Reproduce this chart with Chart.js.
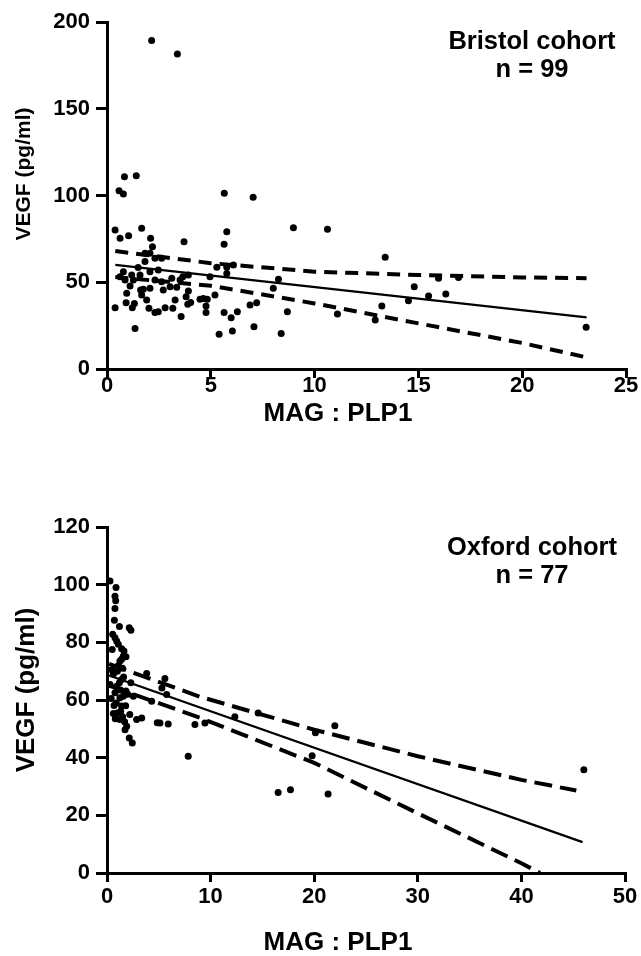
<!DOCTYPE html>
<html lang="en">
<head>
    <meta charset="UTF-8">
    <title>VEGF vs MAG : PLP1</title>
    <style>
        body {
            margin: 0;
            background: #fff;
        }
        .panel {
            width: 641px;
            height: 478px;
        }
    </style>
</head>
<body>

<div class="panel"><canvas id="bristolChart" width="641" height="478"></canvas></div>
<div class="panel"><canvas id="oxfordChart" width="641" height="478"></canvas></div>

<script src="https://cdn.jsdelivr.net/npm/chart.js"></script>
<script>
    // Bristol cohort (n = 99)
    const bristolMag = [2.15, 3.39, 0.84, 1.41, 0.58, 0.79, 5.65, 7.04, 0.39, 0.63,
        1.04, 1.67, 2.10, 2.19, 3.71, 5.77, 5.64, 8.98, 10.62, 13.40,
        0.39, 0.92, 1.22, 1.32, 1.35, 1.62, 1.67, 1.91, 2.02, 2.31,
        2.47, 2.80, 3.17, 3.28, 3.57, 3.81, 3.92, 3.89, 4.03, 4.48,
        4.77, 4.77, 4.83, 5.20, 5.40, 5.64, 5.98, 6.04, 6.28, 6.89,
        7.21, 7.08, 8.39, 8.69, 8.26, 8.01, 11.10, 12.92, 13.24, 14.52,
        14.80, 15.49, 16.32, 15.97, 16.93, 23.08, 1.83, 2.07, 2.31, 2.63,
        1.83, 0.79, 1.19, 0.87, 1.59, 2.07, 2.31, 2.63, 3.12, 3.52,
        3.92, 1.11, 1.75, 2.07, 2.71, 3.04, 3.36, 0.95, 4.64, 0.63,
        4.96, 5.29, 5.77, 6.09, 5.77, 2.47, 3.65, 1.27, 1.50];
    const bristolVegf = [189.4, 181.6, 110.8, 111.4, 102.8, 100.9, 101.3, 99.0, 80.1, 75.3,
        76.8, 81.1, 75.3, 70.5, 73.4, 79.1, 71.9, 81.4, 80.5, 64.4,
        35.3, 38.2, 35.3, 37.8, 23.4, 45.5, 42.7, 39.8, 35.0, 32.5,
        33.0, 35.3, 35.0, 39.8, 30.2, 41.7, 45.0, 37.3, 38.4, 40.2,
        36.3, 32.5, 40.2, 42.7, 20.0, 32.5, 29.6, 21.9, 33.0, 36.9,
        38.2, 24.4, 20.5, 33.0, 51.7, 46.5, 31.7, 28.2, 36.3, 39.4,
        47.4, 42.1, 43.2, 52.3, 52.8, 24.0, 66.7, 66.7, 63.8, 63.8,
        61.9, 56.1, 54.2, 51.3, 54.2, 56.1, 51.3, 50.3, 52.3, 51.3,
        54.2, 47.8, 46.0, 46.5, 45.5, 47.4, 47.1, 43.6, 40.7, 53.2,
        53.2, 58.6, 58.6, 60.0, 55.0, 57.1, 53.2, 51.3, 58.5];
    const bristolFitX = [0.4, 23.1];
    const bristolFitY = [60.0, 29.8];
    const bristolBandX = [0.4, 5, 10, 15, 20, 23.1];
    const bristolUpper = [68.0, 61.0, 56.1, 54.2, 52.8, 52.3];
    const bristolLower = [53.0, 48.0, 37.8, 26.3, 15.0, 6.7];

    // Oxford cohort (n = 77)
    const oxfordMag = [0.29, 0.87, 0.77, 0.84, 0.77, 0.71, 2.15, 2.31, 0.55, 0.77,
        0.93, 1.09, 1.41, 1.64, 1.57, 1.83, 1.41, 1.25, 0.61, 3.83,
        5.59, 0.29, 0.93, 1.41, 0.77, 1.25, 1.57, 1.83, 2.54, 4.31,
        5.76, 0.68, 1.41, 0.61, 1.32, 1.51, 1.25, 2.86, 3.35, 4.85,
        5.91, 5.11, 8.49, 9.45, 12.34, 14.59, 1.74, 1.90, 2.15, 2.44,
        7.84, 21.99, 20.12, 19.80, 16.52, 17.71, 21.34, 46.03, 0.45, 1.00,
        1.60, 1.20, 0.90, 1.80, 2.00, 1.00, 5.30, 0.50, 1.10, 1.30,
        2.20, 0.80, 1.70, 1.50, 2.30, 0.40, 1.20];
    const oxfordVegf = [101.3, 99.0, 96.0, 94.4, 91.7, 87.7, 85.1, 84.2, 82.8, 81.6,
        80.5, 79.3, 77.8, 77.0, 75.2, 75.0, 74.1, 73.5, 68.9, 69.2,
        67.5, 65.4, 64.8, 67.1, 62.5, 60.8, 61.3, 63.1, 61.3, 59.6,
        61.9, 58.1, 57.9, 55.3, 56.1, 54.2, 53.2, 53.2, 53.8, 52.1,
        51.7, 52.0, 51.5, 52.0, 54.2, 55.5, 49.7, 50.9, 46.8, 45.1,
        40.5, 51.1, 48.6, 40.7, 27.9, 28.9, 27.4, 35.8, 70.5, 70.0,
        68.0, 66.0, 59.0, 58.0, 62.0, 55.5, 64.2, 77.5, 72.0, 63.5,
        55.0, 53.5, 52.5, 71.0, 66.0, 60.5, 85.5];
    const oxfordFitX = [0.2, 45.9];
    const oxfordFitY = [68.5, 10.7];
    const oxfordUpperX = [0.2, 9, 20, 30, 40, 45.3];
    const oxfordUpper = [72.5, 61.1, 49.7, 40.5, 32.3, 28.6];
    const oxfordLowerX = [0.2, 9, 20, 30, 40, 41.8];
    const oxfordLower = [65.0, 53.8, 38.2, 20.7, 3.4, 0];

    const FONT = 'Arial, "Liberation Sans", sans-serif';

    function pairs(xs, ys) {
        return xs.map((x, i) => ({ x: x, y: ys[i] }));
    }

    // axis titles and the cohort note are drawn by hand so they sit where the original has them
    const panelText = {
        id: 'panelText',
        afterDraw(chart, args, opts) {
            const ctx = chart.ctx;
            ctx.save();
            ctx.fillStyle = '#000';
            ctx.textAlign = 'center';
            ctx.textBaseline = 'middle';
            ctx.font = `bold ${opts.noteSize}px ${FONT}`;
            opts.note.forEach((line, i) => ctx.fillText(line, opts.noteX, opts.noteY + i * opts.noteGap));
            ctx.font = `bold ${opts.xTitleSize}px ${FONT}`;
            ctx.fillText(opts.xTitle, opts.xTitleX, opts.xTitleY);
            ctx.font = `bold ${opts.yTitleSize}px ${FONT}`;
            ctx.translate(opts.yTitleX, opts.yTitleY);
            ctx.rotate(-Math.PI / 2);
            ctx.fillText(opts.yTitle, 0, 0);
            ctx.restore();
        }
    };

    function makeChart(id, p) {
        const tickFont = { family: FONT, size: 22, weight: 'bold' };
        return new Chart(document.getElementById(id), {
            type: 'scatter',
            data: {
                datasets: [
                    { data: p.points, pointRadius: 3.5, pointBackgroundColor: '#000', pointBorderWidth: 0, showLine: false },
                    { data: p.fit, showLine: true, borderColor: '#000', borderWidth: 2.2, pointRadius: 0 },
                    { data: p.upper, showLine: true, borderColor: '#000', borderWidth: 4, borderDash: p.dash, pointRadius: 0 },
                    { data: p.lower, showLine: true, borderColor: '#000', borderWidth: 4, borderDash: p.dash, pointRadius: 0 }
                ]
            },
            options: {
                responsive: false,
                animation: false,
                layout: { padding: { top: p.top, right: p.right, left: 0, bottom: 0 } },
                plugins: {
                    legend: { display: false },
                    tooltip: { enabled: false },
                    panelText: p.text
                },
                scales: {
                    x: {
                        type: 'linear',
                        min: 0,
                        max: p.xMax,
                        afterFit: s => { s.height = p.xHeight; },
                        border: { color: '#000', width: 3 },
                        grid: { drawOnChartArea: false, tickLength: 9, lineWidth: 3, color: '#000' },
                        ticks: { stepSize: p.xStep, color: '#000', padding: p.xTickPad, font: tickFont }
                    },
                    y: {
                        min: 0,
                        max: p.yMax,
                        afterFit: s => { s.width = 107; },
                        border: { color: '#000', width: 3 },
                        grid: { drawOnChartArea: false, tickLength: 11, lineWidth: 3, color: '#000' },
                        ticks: { stepSize: p.yStep, color: '#000', padding: 6, font: tickFont }
                    }
                }
            },
            plugins: [panelText]
        });
    }

    makeChart('bristolChart', {
        points: pairs(bristolMag, bristolVegf),
        fit: pairs(bristolFitX, bristolFitY),
        upper: pairs(bristolBandX, bristolUpper),
        lower: pairs(bristolBandX, bristolLower),
        dash: [13, 8],
        top: 22, right: 15, xHeight: 109, xTickPad: -5,
        xMax: 25, xStep: 5, yMax: 200, yStep: 50,
        text: { note: ['Bristol cohort', 'n = 99'], noteX: 532, noteY: 42, noteGap: 28, noteSize: 25.5,
                xTitle: 'MAG : PLP1', xTitleX: 338, xTitleY: 414, xTitleSize: 26,
                yTitle: 'VEGF (pg/ml)', yTitleX: 24, yTitleY: 174, yTitleSize: 21 }
    });

    makeChart('oxfordChart', {
        points: pairs(oxfordMag, oxfordVegf),
        fit: pairs(oxfordFitX, oxfordFitY),
        upper: pairs(oxfordUpperX, oxfordUpper),
        lower: pairs(oxfordLowerX, oxfordLower),
        dash: [18, 8],
        top: 49, right: 16, xHeight: 83, xTickPad: 2,
        xMax: 50, xStep: 10, yMax: 120, yStep: 20,
        text: { note: ['Oxford cohort', 'n = 77'], noteX: 532, noteY: 70, noteGap: 28, noteSize: 25.5,
                xTitle: 'MAG : PLP1', xTitleX: 338, xTitleY: 465, xTitleSize: 26,
                yTitle: 'VEGF (pg/ml)', yTitleX: 27, yTitleY: 212, yTitleSize: 26 }
    });
</script>

</body>
</html>
